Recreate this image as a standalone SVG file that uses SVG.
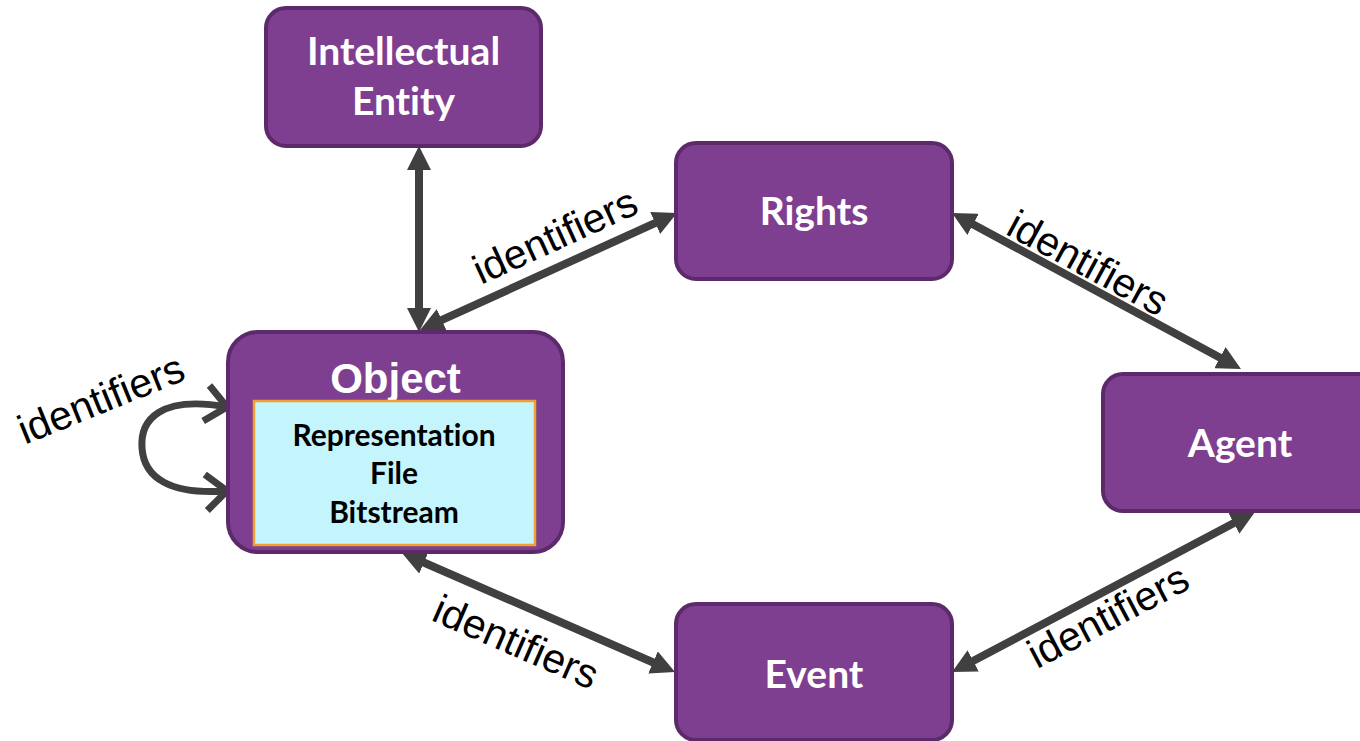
<svg xmlns="http://www.w3.org/2000/svg" width="1360" height="741" viewBox="0 0 1360 741">
  <style>
    text { font-variant-ligatures: none; font-feature-settings: "liga" 0, "clig" 0, "dlig" 0; }
    .box { fill: #7f3f91; stroke: #5c2a6a; stroke-width: 4; }
    .inner { fill: #c4f4fc; stroke: #f0a030; stroke-width: 2.5; }
    .title { font-family: Lato, "Open Sans", sans-serif; font-weight: 700; font-size: 39px; fill: #ffffff; text-anchor: middle; }
    .obj { font-family: "Liberation Sans", Arial, sans-serif; font-weight: 700; font-size: 42px; fill: #ffffff; text-anchor: middle; }
    .sub { font-family: Lato, "Open Sans", sans-serif; font-weight: 700; font-size: 30px; fill: #000000; text-anchor: middle; }
    .link { fill: none; stroke: #404040; stroke-width: 8; marker-start: url(#tri); marker-end: url(#tri); }
    .loop { fill: none; stroke: #404040; stroke-width: 7; marker-start: url(#chev); marker-end: url(#chev); }
    .lbl { font-family: "Liberation Sans", Arial, sans-serif; font-size: 41px; fill: #000000; text-anchor: middle; }
  </style>
  <defs>
    <marker id="tri" markerUnits="userSpaceOnUse" markerWidth="24" markerHeight="24" viewBox="0 0 24 24" refX="4" refY="12" orient="auto-start-reverse">
      <path d="M0,0 L24,12 L0,24 z" fill="#404040"/>
    </marker>
    <marker id="chev" markerUnits="userSpaceOnUse" markerWidth="60" markerHeight="60" viewBox="-30 -30 60 60" refX="0" refY="0" orient="auto-start-reverse" overflow="visible">
      <path d="M-21,-18 L0,0 L-21,18" fill="none" stroke="#404040" stroke-width="7"/>
    </marker>
  </defs>

  <!-- connectors -->
  <g id="connectors">
    <path class="link" d="M419,166 L419,312"/>
    <path class="link" d="M438.2,321.7 L658.8,221.3"/>
    <path class="link" d="M969.6,222.5 L1223.4,359.5"/>
    <path class="link" d="M1237.3,521.3 L969.7,662.7"/>
    <path class="link" d="M420.3,561 L656.7,664"/>
    <path class="loop" d="M227,407 C160,395 140,420 142,448 C144,478 170,495 227,491"/>
  </g>

  <!-- connector labels -->
  <g id="labels">
    <text class="lbl" transform="translate(101,399) rotate(-22)" x="0" y="14">identifiers</text>
    <text class="lbl" transform="translate(555,236) rotate(-24.5)" x="0" y="14">identifiers</text>
    <text class="lbl" transform="translate(1088,263) rotate(28.4)" x="0" y="14">identifiers</text>
    <text class="lbl" transform="translate(1108,616) rotate(-27.8)" x="0" y="14">identifiers</text>
    <text class="lbl" transform="translate(516,642) rotate(23.5)" x="0" y="14">identifiers</text>
  </g>

  <g id="intellectual-entity">
    <rect class="box" x="266" y="8" width="275" height="138" rx="20"/>
    <text class="title" x="403.5" y="65">Intellectual</text>
    <text class="title" x="403.5" y="115">Entity</text>
  </g>

  <g id="rights">
    <rect class="box" x="676" y="143" width="276" height="136" rx="20"/>
    <text class="title" x="814" y="225">Rights</text>
  </g>

  <g id="agent">
    <rect class="box" x="1103" y="374" width="280" height="137" rx="20"/>
    <text class="title" x="1240" y="457">Agent</text>
  </g>

  <g id="event">
    <rect class="box" x="676" y="604" width="276" height="136" rx="20"/>
    <text class="title" x="814" y="688">Event</text>
  </g>

  <g id="object">
    <rect class="box" x="228" y="332" width="335" height="220" rx="30"/>
    <text class="obj" x="395.5" y="393">Object</text>
    <rect class="inner" x="254" y="401" width="281" height="144"/>
    <text class="sub" x="394" y="446">Representation</text>
    <text class="sub" x="394" y="484">File</text>
    <text class="sub" x="394" y="523">Bitstream</text>
  </g>
</svg>
